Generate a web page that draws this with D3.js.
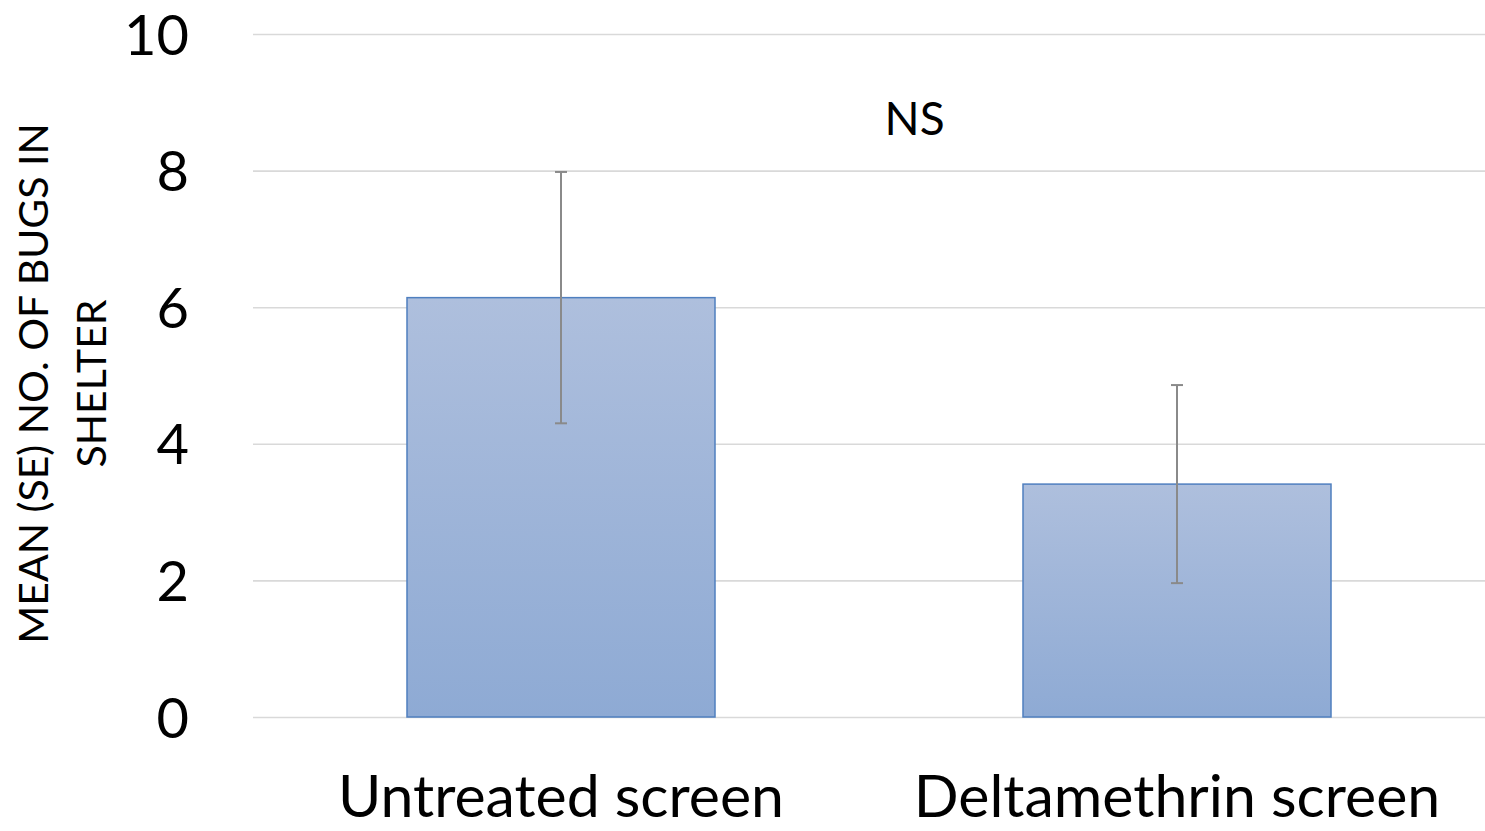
<!DOCTYPE html>
<html>
<head>
<meta charset="utf-8">
<script src="https://cdn.jsdelivr.net/npm/d3@7"></script>
<style>
  html, body { margin: 0; padding: 0; background: #fff; }
  svg { display: block; font-family: Lato, "Open Sans", sans-serif; }
</style>
</head>
<body>
<svg id="chart" width="1485" height="831"></svg>
<script>
// Treatments, mean counts and standard errors
const categories = ["Untreated screen", "Deltamethrin screen"];
const means = [6.14, 3.41];
const errors = [1.84, 1.45];
const yTicks = [0, 2, 4, 6, 8, 10];
const yTitleLines = ["MEAN (SE) NO. OF BUGS IN", "SHELTER"];
const annotation = "NS";

const svg = d3.select("#chart");
const margin = { top: 34, right: 0, bottom: 114, left: 253 };
const width = 1485 - margin.left - margin.right;
const height = 831 - margin.top - margin.bottom;

const g = svg.append("g").attr("transform", `translate(${margin.left},${margin.top})`);

const x = d3.scaleBand().domain(categories).range([0, width]).paddingInner(0.5).paddingOuter(0.25);
const y = d3.scaleLinear().domain([0, 10]).range([height, 0]);

// bar gradient, lighter at the top
const defs = svg.append("defs");
const grad = defs.append("linearGradient").attr("id", "barFill")
  .attr("x1", 0).attr("y1", 0).attr("x2", 0).attr("y2", 1);
grad.append("stop").attr("offset", "0%").attr("stop-color", "#aebfdd");
grad.append("stop").attr("offset", "100%").attr("stop-color", "#8eaad4");

// horizontal gridlines
const yAxis = d3.axisLeft(y).tickValues(yTicks).tickSize(-width).tickFormat(d3.format("d")).tickPadding(64);
const ya = g.append("g").call(yAxis);
ya.select(".domain").remove();
ya.selectAll(".tick line").attr("stroke", "#d9d9d9").attr("stroke-width", 1.6);
ya.selectAll(".tick text").attr("fill", "#000").attr("font-size", 56).attr("dy", "0.36em")
  .attr("font-family", "Lato, sans-serif");

// bars
g.selectAll("rect.bar").data(categories).join("rect")
  .attr("class", "bar")
  .attr("x", d => x(d))
  .attr("width", x.bandwidth())
  .attr("y", (d, i) => y(means[i]))
  .attr("height", (d, i) => y(0) - y(means[i]))
  .attr("fill", "url(#barFill)")
  .attr("stroke", "#4f7fbf")
  .attr("stroke-width", 1.5);

// error bars
const capW = 12;
const eb = g.selectAll("g.err").data(categories).join("g").attr("class", "err")
  .attr("transform", d => `translate(${x(d) + x.bandwidth() / 2},0)`);
eb.append("line")
  .attr("y1", (d, i) => y(means[i] + errors[i]))
  .attr("y2", (d, i) => y(means[i] - errors[i]))
  .attr("stroke", "#8a8a8a").attr("stroke-width", 2);
[1, -1].forEach(s => {
  eb.append("line")
    .attr("x1", -capW / 2).attr("x2", capW / 2)
    .attr("y1", (d, i) => y(means[i] + s * errors[i]))
    .attr("y2", (d, i) => y(means[i] + s * errors[i]))
    .attr("stroke", "#8a8a8a").attr("stroke-width", 2);
});

// category labels
const xAxis = d3.axisBottom(x).tickSize(0).tickPadding(58);
const xa = g.append("g").attr("transform", `translate(0,${height})`).call(xAxis);
xa.select(".domain").remove();
xa.selectAll(".tick text").attr("fill", "#000").attr("font-size", 59)
  .attr("font-family", "Lato, sans-serif");

// significance note
g.append("text")
  .attr("x", x(categories[1]) - 0.088 * width)
  .attr("y", y(8.52))
  .attr("text-anchor", "middle")
  .attr("font-size", 46)
  .attr("fill", "#000")
  .text(annotation);

// y axis title
const yt = svg.append("text")
  .attr("transform", `translate(50,${margin.top + height / 2 + 8}) rotate(-90)`)
  .attr("text-anchor", "middle")
  .attr("font-size", 41)
  .attr("fill", "#000");
yTitleLines.forEach((t, i) => {
  yt.append("tspan").attr("x", 0).attr("dy", i === 0 ? "-0.05em" : "1.42em").text(t);
});
</script>
</body>
</html>
